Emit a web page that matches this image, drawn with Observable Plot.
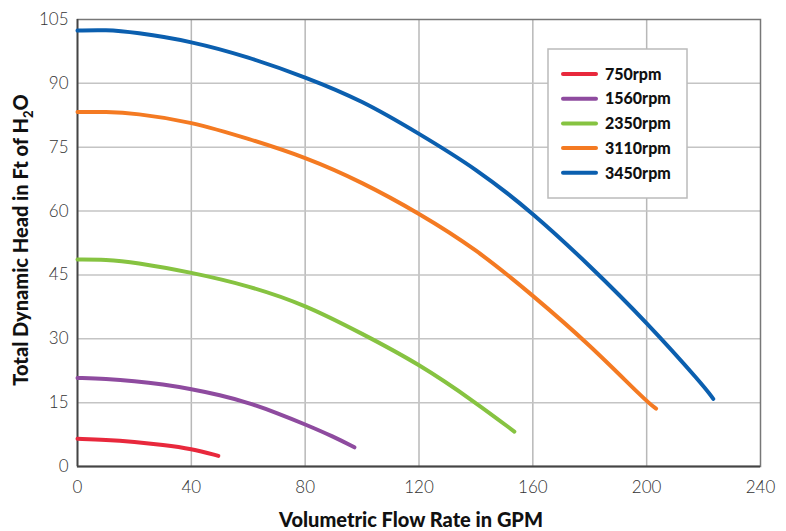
<!DOCTYPE html>
<html>
<head>
<meta charset="utf-8">
<script src="https://cdn.jsdelivr.net/npm/d3@7"></script>
<script src="https://cdn.jsdelivr.net/npm/@observablehq/plot@0.6"></script>
<style>
  html, body { margin: 0; padding: 0; background: #fff; }
  #chart { width: 786px; height: 531px; }
</style>
</head>
<body>
<div id="chart"></div>
<script>
const xTicks = [0, 40, 80, 120, 160, 200, 240];
const yTicks = [0, 15, 30, 45, 60, 75, 90, 105];
const speeds = ["750rpm", "1560rpm", "2350rpm", "3110rpm", "3450rpm"];
const colors = ["#e8283c", "#8e4b9f", "#86c341", "#f47a22", "#0b5faf"];

const flow750  = [0, 10, 20, 30, 40, 49.5];
const head750  = [6.5, 6.3, 5.8, 5.1, 4.2, 2.5];
const flow1560 = [0, 10, 20, 30, 40, 50, 60, 70, 80, 90, 97.3];
const head1560 = [20.8, 20.6, 20.1, 19.3, 18.2, 16.8, 15.0, 12.6, 9.9, 7.0, 4.5];
const flow2350 = [0, 10, 20, 40, 60, 80, 100, 120, 140, 153.5];
const head2350 = [48.6, 48.6, 48.0, 45.6, 42.5, 38.0, 31.2, 24.1, 15.0, 8.2];
const flow3110 = [0, 10, 20, 40, 60, 80, 100, 120, 140, 160, 180, 200, 203.3];
const head3110 = [83.3, 83.3, 83.0, 81.0, 77.0, 72.7, 66.8, 59.5, 51.1, 40.2, 28.6, 15.2, 13.6];
const flow3450 = [0, 10, 20, 40, 60, 80, 100, 120, 140, 160, 180, 200, 220, 223.4];
const head3450 = [102.4, 102.6, 102.0, 99.9, 96.2, 91.5, 86.0, 78.2, 70.0, 59.6, 47.2, 33.9, 19.0, 15.9];

const series = [
  [speeds[0], flow750, head750],
  [speeds[1], flow1560, head1560],
  [speeds[2], flow2350, head2350],
  [speeds[3], flow3110, head3110],
  [speeds[4], flow3450, head3450]
];
const rows = series.flatMap(([s, xs, ys]) => xs.map((x, i) => ({speed: s, flow: x, head: ys[i]})));

const FONT = "Lato, 'Open Sans', sans-serif";

const chart = Plot.plot({
  width: 786,
  height: 531,
  marginLeft: 77,
  marginRight: 26,
  marginTop: 19,
  marginBottom: 65,
  style: {fontFamily: FONT, background: "#fff", color: "#333"},
  x: {domain: [0, 240], ticks: xTicks, label: null},
  y: {domain: [0, 105], ticks: yTicks, label: null},
  color: {domain: speeds, range: colors},
  marks: [
    Plot.gridX(xTicks.slice(1, -1), {stroke: "#b8b8b8", strokeOpacity: 1, strokeWidth: 1.5}),
    Plot.gridY(yTicks.slice(1, -1), {stroke: "#c4c4c4", strokeOpacity: 1, strokeWidth: 1.5}),
    Plot.frame({stroke: "#777", strokeWidth: 1.5}),
    Plot.ruleX([0], {stroke: "#444", strokeWidth: 1.8}),
    Plot.ruleY([0], {stroke: "#444", strokeWidth: 1.8}),
    Plot.line(rows, {x: "flow", y: "head", z: "speed", stroke: "speed", strokeWidth: 4, curve: "basis", strokeLinecap: "round"}),
    Plot.axisX({ticks: xTicks, tickSize: 0, tickPadding: 14, fontSize: 17, fontWeight: 300, fill: "#333", label: null}),
    Plot.axisY({ticks: yTicks, tickSize: 0, tickPadding: 9, fontSize: 17, fontWeight: 300, fill: "#333", label: null})
  ]
});

document.getElementById("chart").appendChild(chart);

const svg = d3.select(chart);

// Axis titles
svg.append("text")
  .attr("x", 411).attr("y", 527)
  .attr("text-anchor", "middle")
  .attr("font-family", FONT).attr("font-weight", 900).attr("font-size", 20)
  .attr("fill", "#111")
  .text("Volumetric Flow Rate in GPM");

const yt = svg.append("text")
  .attr("transform", "translate(28,240) rotate(-90)")
  .attr("text-anchor", "middle")
  .attr("font-family", FONT).attr("font-weight", 900).attr("font-size", 20)
  .attr("fill", "#111");
yt.append("tspan").text("Total Dynamic Head in Ft of H");
yt.append("tspan").attr("font-size", 13).attr("dy", 5).text("2");
yt.append("tspan").attr("dy", -5).text("O");

// Legend
const lg = svg.append("g");
lg.append("rect")
  .attr("x", 548).attr("y", 49).attr("width", 139).attr("height", 149)
  .attr("fill", "#fff").attr("stroke", "#bbb").attr("stroke-width", 1.5);
speeds.forEach((s, i) => {
  const y = 74 + i * 24.7;
  lg.append("line")
    .attr("x1", 563).attr("x2", 596).attr("y1", y).attr("y2", y)
    .attr("stroke", colors[i]).attr("stroke-width", 4).attr("stroke-linecap", "round");
  lg.append("text")
    .attr("x", 605).attr("y", y).attr("dy", "0.36em")
    .attr("text-anchor", "start")
    .attr("font-family", FONT).attr("font-weight", 900).attr("font-size", 16)
    .attr("fill", "#111")
    .text(s);
});
</script>
</body>
</html>
